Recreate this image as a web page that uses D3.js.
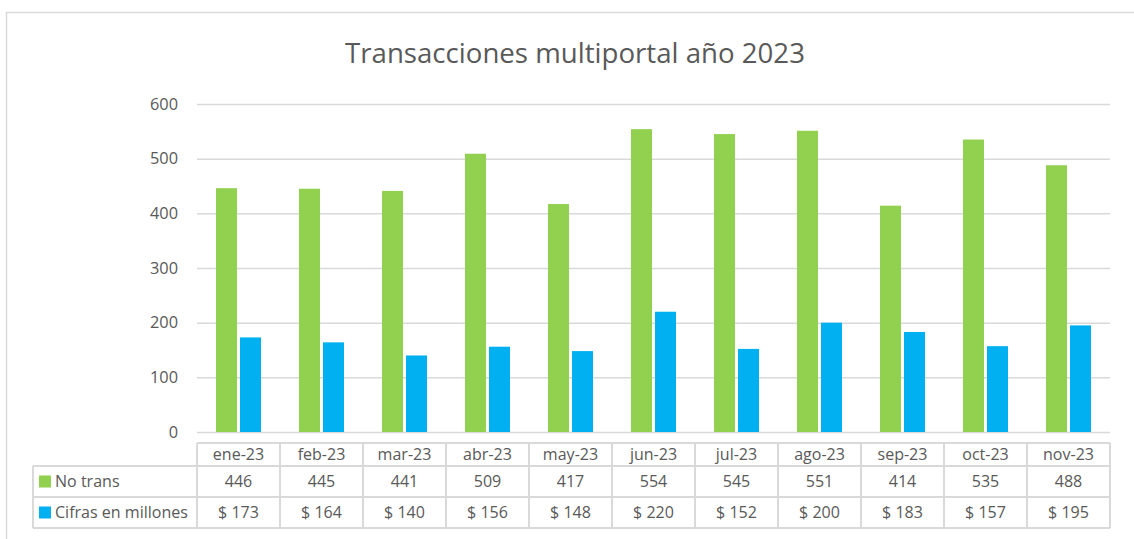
<!DOCTYPE html>
<html><head><meta charset="utf-8">
<script src="https://cdn.jsdelivr.net/npm/d3@7"></script>
<style>body{margin:0;background:#fff}svg{display:block;font-family:"Open Sans",sans-serif}</style>
</head><body>
<script>
const categories = ["ene-23","feb-23","mar-23","abr-23","may-23","jun-23","jul-23","ago-23","sep-23","oct-23","nov-23"];
const noTrans = [446,445,441,509,417,554,545,551,414,535,488];
const cifras = [173,164,140,156,148,220,152,200,183,157,195];
const seriesNames = ["No trans","Cifras en millones"];
const yTicks = [0,100,200,300,400,500,600];

const W=1134,H=539;
const colors=["#92D050","#00B0F0"];
const FF="'Open Sans',sans-serif";
const svg=d3.select("body").append("svg").attr("width",W).attr("height",H);
svg.append("rect").attr("x",6.5).attr("y",12.5).attr("width",1140).attr("height",540).attr("fill","none").attr("stroke","#d9d9d9").attr("stroke-width",1.5);

function fitSize(txt,target,base){
  const t=svg.append("text").attr("font-family",FF).attr("font-size",base).text(txt);
  const w=t.node().getComputedTextLength(); t.remove();
  return base*target/w;
}
const titleSize=fitSize("Transacciones multiportal año 2023",460,20);
const tickSize=fitSize("600",28,15);
const tableSize=fitSize("Cifras en millones",133,15);

const x0=197,x1=1110,yTop=104,yBot=432;
const x=d3.scaleBand().domain(categories).range([x0,x1]);
const y=d3.scaleLinear().domain([0,600]).range([yBot,yTop]);

svg.append("text").attr("x",575).attr("y",63).attr("text-anchor","middle").attr("font-size",titleSize).attr("fill","#595959").text("Transacciones multiportal año 2023");

const ya=svg.append("g").attr("transform",`translate(${x0},0)`).call(d3.axisLeft(y).tickValues(yTicks).tickSize(-(x1-x0)).tickPadding(19));
ya.select(".domain").remove();
ya.selectAll("line").attr("stroke","#d9d9d9").attr("stroke-width",1.5);
ya.selectAll("text").attr("font-size",tickSize).attr("fill","#595959").attr("font-family",FF);

const bw=21, gap=3;
const data=[noTrans,cifras];
data.forEach((vals,si)=>{
  svg.append("g").selectAll("rect").data(vals).join("rect")
    .attr("x",(d,i)=>x(categories[i])+x.bandwidth()/2+(si===0?-(bw+gap/2):gap/2))
    .attr("y",d=>y(d)).attr("width",bw).attr("height",d=>y(0)-y(d)).attr("fill",colors[si]);
});

// data table
const rows=[443,466,497,528];
const tlLeft=33, tc="#d9d9d9";
const tg=svg.append("g").attr("stroke",tc).attr("stroke-width",2);
tg.append("line").attr("x1",x0).attr("x2",x1).attr("y1",rows[0]).attr("y2",rows[0]);
[1,2,3].forEach(r=>tg.append("line").attr("x1",tlLeft).attr("x2",x1).attr("y1",rows[r]).attr("y2",rows[r]));
tg.append("line").attr("x1",tlLeft).attr("x2",tlLeft).attr("y1",rows[1]).attr("y2",rows[3]);
categories.forEach(c=>tg.append("line").attr("x1",x(c)).attr("x2",x(c)).attr("y1",rows[0]).attr("y2",rows[3]));
tg.append("line").attr("x1",x1).attr("x2",x1).attr("y1",rows[0]).attr("y2",rows[3]);

const tt=svg.append("g").attr("font-size",tableSize).attr("fill","#595959").attr("text-anchor","middle");
const off=tableSize*0.36;
categories.forEach((c,i)=>{
  const cx=x(c)+x.bandwidth()/2;
  tt.append("text").attr("x",cx).attr("y",(rows[0]+rows[1])/2+off).text(c);
  tt.append("text").attr("x",cx).attr("y",(rows[1]+rows[2])/2+off).text(noTrans[i]);
  tt.append("text").attr("x",cx).attr("y",(rows[2]+rows[3])/2+off).text("$ "+cifras[i]);
});
seriesNames.forEach((n,si)=>{
  const cy=(rows[si+1]+rows[si+2])/2;
  svg.append("rect").attr("x",39).attr("y",cy-6).attr("width",12).attr("height",12).attr("fill",colors[si]);
  svg.append("text").attr("x",55).attr("y",cy+off).attr("font-size",tableSize).attr("fill","#595959").text(n);
});
</script>
</body></html>
